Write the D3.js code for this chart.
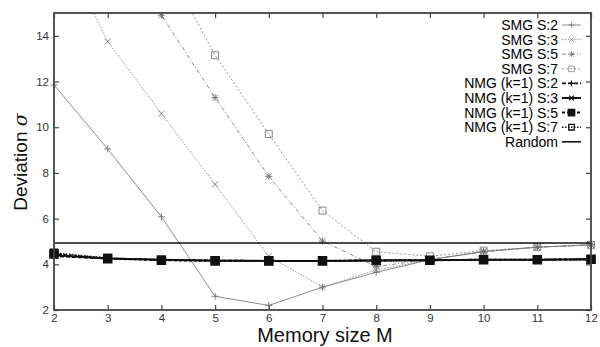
<!DOCTYPE html>
<html>
<head>
<meta charset="utf-8">
<script src="https://cdn.jsdelivr.net/npm/d3@7"></script>
<style>
  body { margin: 0; background: #fff; }
  svg { display: block; font-family: "Liberation Sans", Arial, sans-serif; }
</style>
</head>
<body>
<script>
// memory sizes on the x axis
const memSizes = [2, 3, 4, 5, 6, 7, 8, 9, 10, 11, 12];
const xTicks = [2, 3, 4, 5, 6, 7, 8, 9, 10, 11, 12];
const yTicks = [2, 4, 6, 8, 10, 12, 14];

// deviation values (values above 15 run off the top)
const smgS2 = [11.85, 9.05, 6.08, 2.6, 2.2, 3.0, 3.65, 4.2, 4.55, 4.75, 4.85];
const smgS3 = [18.5, 13.75, 10.6, 7.5, 4.35, 3.0, 3.75, 4.2, 4.58, 4.75, 4.85];
const smgS5 = [26, 22, 14.9, 11.3, 7.85, 5.02, 3.9, 4.22, 4.55, 4.75, 4.85];
const smgS7 = [25, 21, 17.5, 13.15, 9.7, 6.35, 4.55, 4.35, 4.6, 4.75, 4.85];
const nmgS2 = [4.35, 4.25, 4.2, 4.17, 4.15, 4.15, 4.17, 4.18, 4.2, 4.2, 4.22];
const nmgS3 = [4.4, 4.25, 4.2, 4.16, 4.15, 4.15, 4.17, 4.18, 4.2, 4.2, 4.22];
const nmgS5 = [4.45, 4.25, 4.18, 4.15, 4.15, 4.15, 4.17, 4.18, 4.2, 4.2, 4.22];
const nmgS7 = [4.5, 4.27, 4.2, 4.17, 4.15, 4.15, 4.17, 4.18, 4.2, 4.2, 4.22];
const randomDev = [4.93, 4.93, 4.93, 4.93, 4.93, 4.93, 4.93, 4.93, 4.93, 4.93, 4.93];

const seriesNames = ["SMG S:2", "SMG S:3", "SMG S:5", "SMG S:7",
  "NMG (k=1) S:2", "NMG (k=1) S:3", "NMG (k=1) S:5", "NMG (k=1) S:7", "Random"];

const width = 600;
const height = 347;
const padLeft = 54, padRight = 591, padTop = 13, padBottom = 310;

const plus = "M-3.5,0H3.5M0,-3.5V3.5";
const times = "M-3,-3L3,3M-3,3L3,-3";
const star = plus + times;
const square = "M-3.5,-3.5H3.5V3.5H-3.5Z";

// look of each series
const styles = [
  { values: smgS2, color: "#6e6e6e", w: 0.8, dash: null, marker: plus },
  { values: smgS3, color: "#7a7a7a", w: 0.8, dash: "1.5,1.5", marker: times },
  { values: smgS5, color: "#6e6e6e", w: 0.8, dash: "4,2,1,2", marker: star },
  { values: smgS7, color: "#7a7a7a", w: 0.8, dash: "2,2", marker: square },
  { values: nmgS2, color: "#111", w: 1.6, dash: "4,2", marker: plus },
  { values: nmgS3, color: "#111", w: 2, dash: null, marker: times },
  { values: nmgS5, color: "#111", w: 2, dash: "3,2", marker: "M-4,-4H4V4H-4Z", fill: "#111" },
  { values: nmgS7, color: "#111", w: 1.6, dash: "1.5,1.5", marker: square },
  { values: randomDev, color: "#111", w: 1.6, dash: null, marker: null }
];

const svg = d3.select("body").append("svg")
  .attr("width", width)
  .attr("height", height);

const x = d3.scaleLinear().domain([2, 12]).range([padLeft, padRight]);
const y = d3.scaleLinear().domain([2, 15]).range([padBottom, padTop]);

svg.append("defs").append("clipPath").attr("id", "plot")
  .append("rect")
  .attr("x", padLeft - 6).attr("y", padTop)
  .attr("width", padRight - padLeft + 12).attr("height", padBottom - padTop);

// axes with inward ticks on all four sides
svg.append("g")
  .attr("transform", "translate(0," + padBottom + ")")
  .call(d3.axisBottom(x).tickValues(xTicks).tickSize(-5).tickPadding(4));
svg.append("g")
  .attr("transform", "translate(0," + padTop + ")")
  .call(d3.axisTop(x).tickValues(xTicks).tickSize(-5).tickFormat(""));
svg.append("g")
  .attr("transform", "translate(" + padLeft + ",0)")
  .call(d3.axisLeft(y).tickValues(yTicks).tickSize(-5).tickPadding(5));
svg.append("g")
  .attr("transform", "translate(" + padRight + ",0)")
  .call(d3.axisRight(y).tickValues(yTicks).tickSize(-5).tickFormat(""));

svg.selectAll(".domain").remove();
svg.selectAll(".tick line").attr("stroke", "#444").attr("stroke-width", 1.2);
svg.selectAll(".tick text").attr("fill", "#333").style("font-size", "11.5px");

const line = d3.line()
  .x((d, i) => x(memSizes[i]))
  .y((d) => y(d));

const plot = svg.append("g");

styles.forEach((s) => {
  const g = plot.append("g");
  g.append("path")
    .attr("clip-path", "url(#plot)")
    .attr("d", line(s.values))
    .attr("fill", "none")
    .attr("stroke", s.color)
    .attr("stroke-width", s.w)
    .attr("stroke-dasharray", s.dash);
  if (s.marker) {
    g.selectAll("path.mk")
      .data(s.values.map((v, i) => [memSizes[i], v]).filter((d) => d[1] <= 15))
      .enter()
      .append("path")
      .attr("class", "mk")
      .attr("transform", (d) => "translate(" + x(d[0]) + "," + y(d[1]) + ")")
      .attr("d", s.marker)
      .attr("fill", s.fill || "none")
      .attr("stroke", s.color)
      .attr("stroke-width", s.w > 1 ? 1.6 : 0.9);
  }
});

// frame
svg.append("rect")
  .attr("x", padLeft).attr("y", padTop)
  .attr("width", padRight - padLeft).attr("height", padBottom - padTop)
  .attr("fill", "none")
  .attr("stroke", "#444")
  .attr("stroke-width", 1.8);

// legend
const legend = svg.append("g");
styles.forEach((s, i) => {
  const ly = 25 + i * 14.6;
  legend.append("text")
    .attr("x", 558).attr("y", ly)
    .attr("dy", "0.36em")
    .attr("text-anchor", "end")
    .attr("fill", "#000")
    .style("font-size", "14px")
    .text(seriesNames[i]);
  legend.append("line")
    .attr("x1", 562).attr("x2", 581)
    .attr("y1", ly).attr("y2", ly)
    .attr("stroke", s.color)
    .attr("stroke-width", s.w)
    .attr("stroke-dasharray", s.dash);
  if (s.marker) {
    legend.append("path")
      .attr("transform", "translate(571.5," + ly + ") scale(0.8)")
      .attr("d", s.marker)
      .attr("fill", s.fill || "none")
      .attr("stroke", s.color)
      .attr("stroke-width", s.w > 1 ? 1.6 : 0.9);
  }
});

// axis titles
svg.append("text")
  .attr("transform", "translate(27,162) rotate(-90)")
  .attr("text-anchor", "middle")
  .attr("fill", "#111")
  .style("font-size", "19px")
  .text("Deviation ")
  .append("tspan")
  .style("font-family", "'DejaVu Serif', serif")
  .style("font-style", "italic")
  .text("σ");

svg.append("text")
  .attr("x", 325).attr("y", 342)
  .attr("text-anchor", "middle")
  .attr("fill", "#111")
  .style("font-size", "20px")
  .text("Memory size M");
</script>
</body>
</html>
